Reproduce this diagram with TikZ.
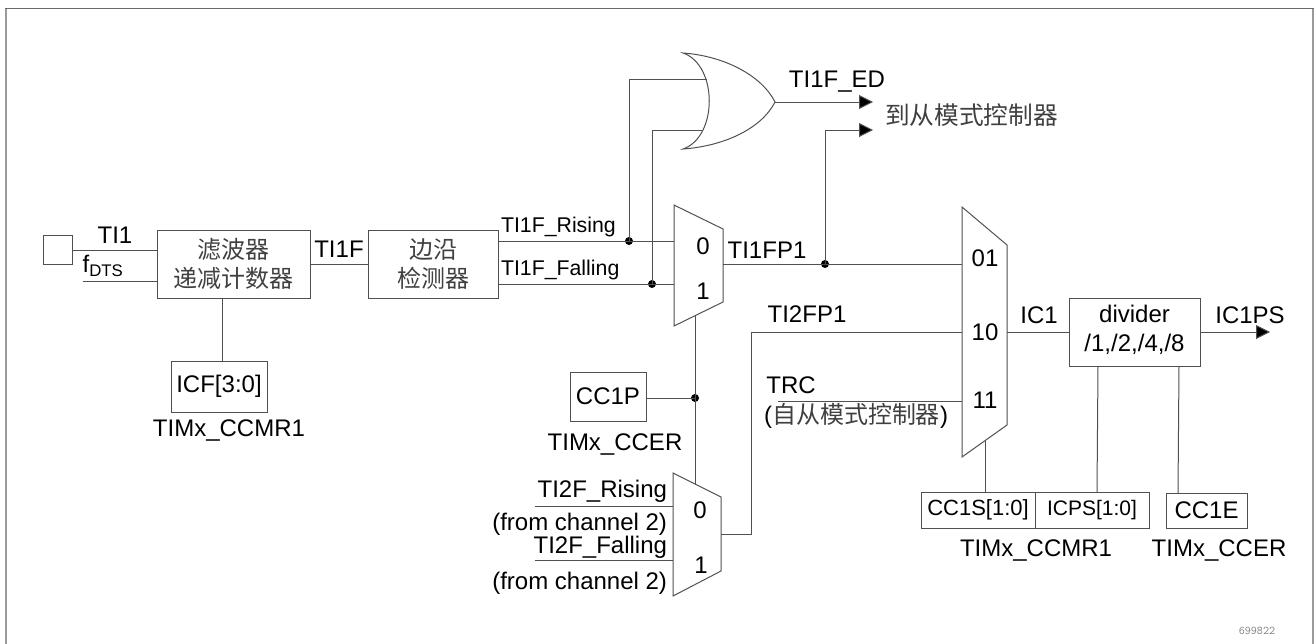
\documentclass[tikz,border=0pt]{standalone}
\usepackage{fontspec}
\setmainfont{Liberation Sans}
\newfontfamily\cjk{Noto Sans CJK SC}
\usetikzlibrary{arrows.meta}
\definecolor{wire}{HTML}{505050}
\definecolor{framegray}{HTML}{9A9A9A}
\tikzset{
	wirestyle/.style = {draw = wire, line width = 1pt},
	arrowed/.style = {wirestyle, -{Triangle[length = 14pt, width = 14pt, fill = black]}},
	box/.style = {draw = wire, line width = 1pt, inner sep = 0pt, outer sep = 0pt, align = center, text = black},
	cjkbox/.style = {box, text = black!75, font = \cjk\fontsize{24}{29.5}\selectfont},
	lab/.style = {inner sep = 0pt, outer sep = 0pt, text = black, text height = 17pt, text depth = 0pt, font = \fontsize{24}{29}\selectfont},
	smalllab/.style = {lab, text height = 15pt, font = \fontsize{21.3}{26}\selectfont},
	dot/.style = {circle, fill = black, inner sep = 0pt, minimum size = 8pt}
}
\begin{document}
\begin{tikzpicture}[x = 1pt, y = -1pt]
\useasboundingbox (0,0) rectangle (1315,643);
\draw[framegray, line width = 2pt] (5.5,650) -- (5.5,8);
\draw[framegray, line width = 2pt] (1313,650) -- (1313,8);
\draw[wire!85, line width = 1pt] (5,8) -- (1314,8);

% left side boxes
\node[box, minimum width = 29pt, minimum height = 29pt] (pin) at (57.5,250) {};
\node[cjkbox, minimum width = 153pt, minimum height = 68pt] (filter) at (233.5,264) {滤波器\\递减计数器};
\node[cjkbox, minimum width = 130pt, minimum height = 68pt] (edge) at (433,264) {边沿\\检测器};
\node[box, minimum width = 96pt, minimum height = 51pt, font = \fontsize{24}{29}\selectfont] (icf) at (219,386.5) {ICF[3:0]};
\node[box, minimum width = 76pt, minimum height = 49pt, font = \fontsize{24}{29}\selectfont] (ccp) at (608,396.5) {CC1P};
\node[box, minimum width = 131pt, minimum height = 68pt, font = \fontsize{24}{29}\selectfont] (divider) at (1134.5,332) {divider\\/1,/2,/4,/8\\[-22pt]\rule{0pt}{0pt}};
\node[box, minimum width = 114pt, minimum height = 36pt, font = \fontsize{22}{26}\selectfont] (ccs) at (978,510) {CC1S[1:0]};
\node[box, minimum width = 114pt, minimum height = 36pt, font = \fontsize{21}{26}\selectfont] (icps) at (1092,510) {ICPS[1:0]};
\node[box, minimum width = 81pt, minimum height = 35pt, font = \fontsize{24}{29}\selectfont] (cce) at (1206.5,510.5) {CC1E};

% selectors and the or gate
\draw[wirestyle] (674,205) coordinate (muxa) -- (723,229) -- (723,302) -- (674,326) -- cycle;
\draw[wirestyle] (962,207) coordinate (muxb) -- (1007,245) -- (1007,425) -- (962,457) -- cycle;
\draw[wirestyle] (673,473) coordinate (muxc) -- (721,497) -- (721,571) -- (673,596) -- cycle;
\draw[wirestyle] (683,53) .. controls (718,65) and (718,137) .. (683,149)
	.. controls (725,146) and (762,128) .. (775,102)
	.. controls (762,76) and (725,56) .. (683,53) -- cycle;

% junctions
\coordinate (riseout) at (498,241);
\coordinate (fallout) at (498,284);
\coordinate (fdts) at (83,281);
\coordinate (trcin) at (778,401);
\coordinate (rise2) at (535,506);
\coordinate (fall2) at (535,560);
\node[dot] (risedot) at (629,241) {};
\node[dot] (falldot) at (652,284) {};
\node[dot] (fpdot) at (825,264) {};
\node[dot] (polar) at (695,398) {};
\coordinate (edout) at (873,102);
\coordinate (slaveout) at (873,130);
\coordinate (psout) at (1270,332);

% connectors
\draw[wirestyle] (pin.east) -- (pin.east -| filter.west);
\draw[wirestyle] (fdts) -- (fdts -| filter.west);
\draw[wirestyle] (filter.east |- edge.west) -- (edge.west);
\draw[wirestyle] (222,298) -- (222,361);
\draw[wirestyle] (riseout) -- (674,241);
\draw[wirestyle] (fallout) -- (674,284);
\draw[wirestyle] (risedot.center) -- (629,79) -- (707,79);
\draw[wirestyle] (falldot.center) -- (652,130) -- (702,130);
\draw[arrowed] (775,102) -- (edout);
\draw[arrowed] (fpdot.center) -- (825,130) -- (slaveout);
\draw[wirestyle] (723,264) -- (962,264);
\draw[wirestyle] (721,534) -- (751,534) -- (751,332) -- (962,332);
\draw[wirestyle] (trcin) -- (962,401);
\draw[wirestyle] (1007,332) -- (divider.west);
\draw[arrowed] (divider.east) -- (psout);
\draw[wirestyle] (ccp.east |- polar) -- (polar.center);
\draw[wirestyle] (695,315) -- (695,484);
\draw[wirestyle] (rise2) -- (673,506);
\draw[wirestyle] (fall2) -- (673,560);
\draw[wirestyle] (985,441) -- (985,492);
\draw[wirestyle] (1098,366) -- (1097,492);
\draw[wirestyle] (1179,366) -- (1178,493);

% labels
\node[lab] (tione) at (115,235) {TI1};
\node[lab] (fdtslab) at (103,264) {f\textsubscript{DTS}};
\node[lab] (tif) at (339,248.5) {TI1F};
\node[lab] (icfreg) at (229,428) {TIMx\_CCMR1};
\node[smalllab, anchor = west] (risinglab) at (501,225) {TI1F\_Rising};
\node[smalllab, anchor = west] (fallinglab) at (501,268) {TI1F\_Falling};
\node[lab] (edlab) at (837,78.5) {TI1F\_ED};
\node[lab, anchor = west, text = black!75, font = \cjk\fontsize{24.7}{29}\selectfont] (tolab) at (885,116) {到从模式控制器};
\node[lab] (fpone) at (767,249.5) {TI1FP1};
\node[lab] (fptwo) at (807,313.5) {TI2FP1};
\node[lab] (trclab) at (791,385) {TRC};
\node[lab, anchor = west] (fromlab) at (764,415) {(\cjk\textcolor{black!75}{自从模式控制器}\rmfamily)};
\node[lab] (ccpreg) at (615,442) {TIMx\_CCER};
\node[lab, anchor = east] (ritwo) at (667,488.5) {TI2F\_Rising};
\node[lab, anchor = east] (chone) at (667,522) {(from channel 2)};
\node[lab, anchor = east] (fatwo) at (667,545) {TI2F\_Falling};
\node[lab, anchor = east] (chtwo) at (667,581) {(from channel 2)};
\node[lab] (iclab) at (1039,314.5) {IC1};
\node[lab] (pslab) at (1250,314.5) {IC1PS};
\node[lab] (ccsreg) at (1036,547.5) {TIMx\_CCMR1};
\node[lab] (ccereg) at (1219,547.5) {TIMx\_CCER};
\node[lab] (selzero) at (703,245.5) {0};
\node[lab] (selone) at (703,291) {1};
\node[lab] (selzerob) at (700,509.5) {0};
\node[lab] (seloneb) at (701,565) {1};
\foreach \y/\t in {257.5/01, 331.5/10, 400/11}
{
	\node[lab] (sel\t) at (985,\y) {\t};
}
\node[text = black!50, inner sep = 0pt, font = \ttfamily\fontsize{11.8}{14}\selectfont] (figid) at (1257,631) {699822};
\end{tikzpicture}
\end{document}
